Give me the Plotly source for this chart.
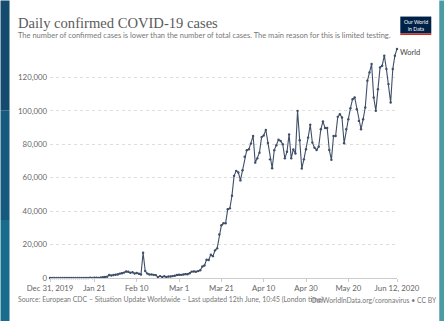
import pandas as pd
import plotly.graph_objects as go

# Daily confirmed COVID-19 cases, World (ECDC), 31 Dec 2019 – 12 Jun 2020
dec_2019 = [27]
jan_2020 = [0, 0, 17, 0, 15, 0, 0, 0, 0, 0, 0, 0, 1, 0, 1, 0, 5, 17, 136, 20,
            153, 142, 97, 266, 453, 673, 797, 1767, 1480, 1757, 1985]
feb_2020 = [2112, 2612, 2840, 3239, 3915, 3721, 3173, 3437, 2676, 3001, 2546,
            2068, 15141, 4156, 2641, 2099, 2050, 1891, 1745, 548, 1143, 636,
            1060, 580, 869, 900, 1150, 1383, 1792]
mar_2020 = [1923, 1870, 2085, 2312, 2223, 2838, 3828, 3925, 3686, 4125, 4594,
            6837, 7464, 10963, 10785, 13903, 13076, 16556, 17745, 26015, 31542,
            32745, 32787, 41200, 41683, 49219, 61109, 64103, 63159, 58400, 64475]
apr_2020 = [72500, 76500, 77000, 80400, 85000, 69000, 71600, 75000, 84300, 85300,
            88600, 80800, 71000, 65700, 76500, 79400, 82700, 82000, 80000, 71600,
            75500, 85900, 71600, 76900, 74500, 100000, 82400, 65500, 71000, 77000]
may_2020 = [84000, 91700, 81000, 78000, 76600, 78600, 89000, 93700, 89700, 89700,
            76600, 70700, 85000, 85000, 96400, 98000, 96000, 80600, 89000, 95000,
            101600, 107000, 108000, 101000, 94000, 89000, 95000, 102000, 118000,
            123000, 128000]
jun_2020 = [108000, 100000, 113000, 126000, 127000, 133000, 125000, 116000,
            105000, 125000, 133000, 137000]

daily_cases = dec_2019 + jan_2020 + feb_2020 + mar_2020 + apr_2020 + may_2020 + jun_2020
dates = pd.date_range("2019-12-31", periods=len(daily_cases), freq="D")

x_tick_dates = ["2019-12-31", "2020-01-21", "2020-02-10", "2020-03-01", "2020-03-21",
                "2020-04-10", "2020-04-30", "2020-05-20", "2020-06-12"]
x_tick_labels = ["Dec 31, 2019", "Jan 21", "Feb 10", "Mar 1", "Mar 21",
                 "Apr 10", "Apr 30", "May 20", "Jun 12, 2020"]
y_tick_values = [0, 20000, 40000, 60000, 80000, 100000, 120000]
y_tick_labels = ["0", "20,000", "40,000", "60,000", "80,000", "100,000", "120,000"]

W, H = 444, 321
L, R, T, B = 49.5, 47.3, 43.5, 43
PW, PH = W - L - R, H - T - B


def px_x(px):
    return (px - L) / PW


def px_y(py):
    return (H - B - py) / PH


LINE = "#3f4f68"
SANS = "Lato"
SERIF = "Liberation Serif"

fig = go.Figure()
fig.add_trace(go.Scatter(
    x=dates, y=daily_cases, mode="lines+markers",
    line=dict(color=LINE, width=1.1),
    marker=dict(size=2.4, color=LINE),
    cliponaxis=False, hoverinfo="skip", showlegend=False,
))

shapes = [
    # page background strips on either side of the card
    dict(type="rect", xref="paper", yref="paper", x0=px_x(0), x1=px_x(9),
         y0=px_y(0), y1=px_y(110), fillcolor="#144a6e", line_width=0, layer="below"),
    dict(type="rect", xref="paper", yref="paper", x0=px_x(0), x1=px_x(9),
         y0=px_y(110), y1=px_y(220), fillcolor="#15597c", line_width=0, layer="below"),
    dict(type="rect", xref="paper", yref="paper", x0=px_x(0), x1=px_x(9),
         y0=px_y(220), y1=px_y(321), fillcolor="#1a6c8c", line_width=0, layer="below"),
    dict(type="rect", xref="paper", yref="paper", x0=px_x(439), x1=px_x(444),
         y0=px_y(0), y1=px_y(321), fillcolor="#4b9ba3", line_width=0, layer="below"),
    # logo box
    dict(type="rect", xref="paper", yref="paper", x0=px_x(400), x1=px_x(431),
         y0=px_y(16), y1=px_y(33), fillcolor="#002147", line_width=0),
    dict(type="rect", xref="paper", yref="paper", x0=px_x(400), x1=px_x(431),
         y0=px_y(33), y1=px_y(34.5), fillcolor="#ce261e", line_width=0),
]

annotations = [
    dict(text="Daily confirmed COVID-19 cases", xref="paper", yref="paper",
         x=px_x(15), y=px_y(22.5), xanchor="left", yanchor="middle", showarrow=False,
         font=dict(family=SERIF, size=14.6, color="#5b5b5b")),
    dict(text="The number of confirmed cases is lower than the number of total cases. "
              "The main reason for this is limited testing.",
         xref="paper", yref="paper", x=px_x(15), y=px_y(34.5), xanchor="left",
         yanchor="middle", showarrow=False, font=dict(family=SANS, size=7.5, color="#777777")),
    dict(text="Our World<br>in Data", xref="paper", yref="paper", x=px_x(415.5), y=px_y(24.5),
         xanchor="center", yanchor="middle", showarrow=False,
         font=dict(family=SANS, size=5.2, color="#ffffff")),
    dict(text="World", x=dates[-1], y=daily_cases[-1], xanchor="left", yanchor="middle",
         xshift=1, yshift=-3, showarrow=False, font=dict(family=SANS, size=7.5, color="#444444")),
    dict(text="Source: European CDC – Situation Update Worldwide – Last updated 12th June, "
              "10:45 (London time)", xref="paper", yref="paper", x=px_x(15), y=px_y(300),
         xanchor="left", yanchor="middle", showarrow=False,
         font=dict(family=SANS, size=6.9, color="#777777")),
    dict(text="OurWorldInData.org/coronavirus • CC BY", xref="paper", yref="paper",
         x=px_x(438.5), y=px_y(300), xanchor="right", yanchor="middle", showarrow=False,
         font=dict(family=SANS, size=6.8, color="#777777")),
]

fig.update_layout(
    width=W, height=H,
    margin=dict(l=L, r=R, t=T, b=B, pad=0),
    paper_bgcolor="#ffffff", plot_bgcolor="#ffffff",
    template="none",
    shapes=shapes, annotations=annotations,
    xaxis=dict(
        type="date", range=[dates[0], dates[-1]], automargin=False,
        tickvals=x_tick_dates, ticktext=x_tick_labels,
        tickfont=dict(family=SANS, size=7.8, color="#666666"),
        showgrid=False, zeroline=False,
        showline=True, linecolor="#cccccc", linewidth=1,
        ticks="outside", ticklen=3, tickcolor="#cccccc",
    ),
    yaxis=dict(
        range=[0, 140000], automargin=False,
        tickvals=y_tick_values, ticktext=y_tick_labels,
        tickfont=dict(family=SANS, size=7.8, color="#666666"),
        showgrid=True, gridcolor="#dddddd", griddash="dot", gridwidth=1,
        zeroline=False, showline=False, ticks="", ticklabelstandoff=2,
    ),
)

fig.write_html("out.html")
